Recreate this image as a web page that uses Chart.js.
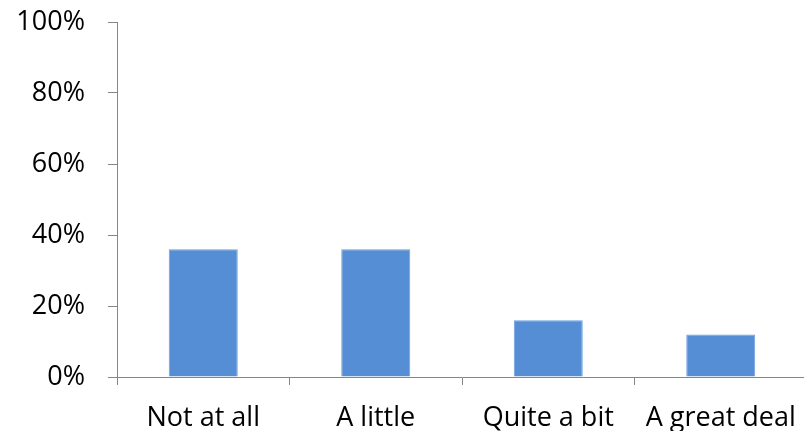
<!DOCTYPE html>
<html>
<head>
<meta charset="utf-8">
<script src="https://cdn.jsdelivr.net/npm/chart.js@4/dist/chart.umd.min.js"></script>
<style>
  html, body { margin: 0; padding: 0; background: #fff; overflow: hidden; }
  #wrap { width: 810px; height: 431px; }
</style>
</head>
<body>
<div id="wrap"><canvas id="cchart" width="810" height="431"></canvas></div>
<script>
let categories = ["Not at all", "A little", "Quite a bit", "A great deal"];
let shares = [0.36, 0.36, 0.16, 0.12];
let yTicks = [0, 0.2, 0.4, 0.6, 0.8, 1];

const axisGray = '#868686';
const fontFamily = "'Open Sans', 'Liberation Sans', sans-serif";

let UICanvasChart = document.getElementById('cchart');
let ctx = UICanvasChart.getContext('2d');

let _chart = new Chart(ctx, {
    type: 'bar',
    data: {
        labels: categories,
        datasets: [{
            label: "Share",
            data: shares,
            backgroundColor: '#558ED5',
            borderColor: '#6C9EDD',
            borderWidth: 1,
            barPercentage: 0.4,
            categoryPercentage: 1
        }]
    },
    options: {
        responsive: false,
        animation: false,
        layout: { padding: { top: 22, right: 3, left: 0, bottom: 0 } },
        plugins: {
            legend: { display: false },
            tooltip: { enabled: false }
        },
        scales: {
            x: {
                offset: true,
                grid: {
                    offset: true,
                    drawOnChartArea: false,
                    drawTicks: true,
                    tickLength: 8,
                    color: axisGray
                },
                border: { color: axisGray, width: 1 },
                ticks: {
                    color: '#000',
                    padding: 17,
                    maxRotation: 0,
                    autoSkip: false,
                    font: { family: fontFamily, size: 27 }
                },
                afterFit: function (scale) {
                    scale.height = 54;
                    scale.paddingLeft = 0;
                    scale.paddingRight = 0;
                }
            },
            y: {
                min: 0,
                max: 1,
                afterBuildTicks: function (scale) {
                    scale.ticks = yTicks.map(v => ({ value: v }));
                },
                grid: {
                    drawOnChartArea: false,
                    drawTicks: true,
                    tickLength: 9,
                    color: axisGray
                },
                border: { color: axisGray, width: 1 },
                ticks: {
                    color: '#000',
                    padding: 23,
                    font: { family: fontFamily, size: 27 },
                    callback: function (v) { return Math.round(v * 100) + '%'; }
                },
                afterFit: function (scale) {
                    scale.width = 117;
                    scale.paddingTop = 0;
                    scale.paddingBottom = 0;
                }
            }
        }
    }
});
</script>
</body>
</html>
